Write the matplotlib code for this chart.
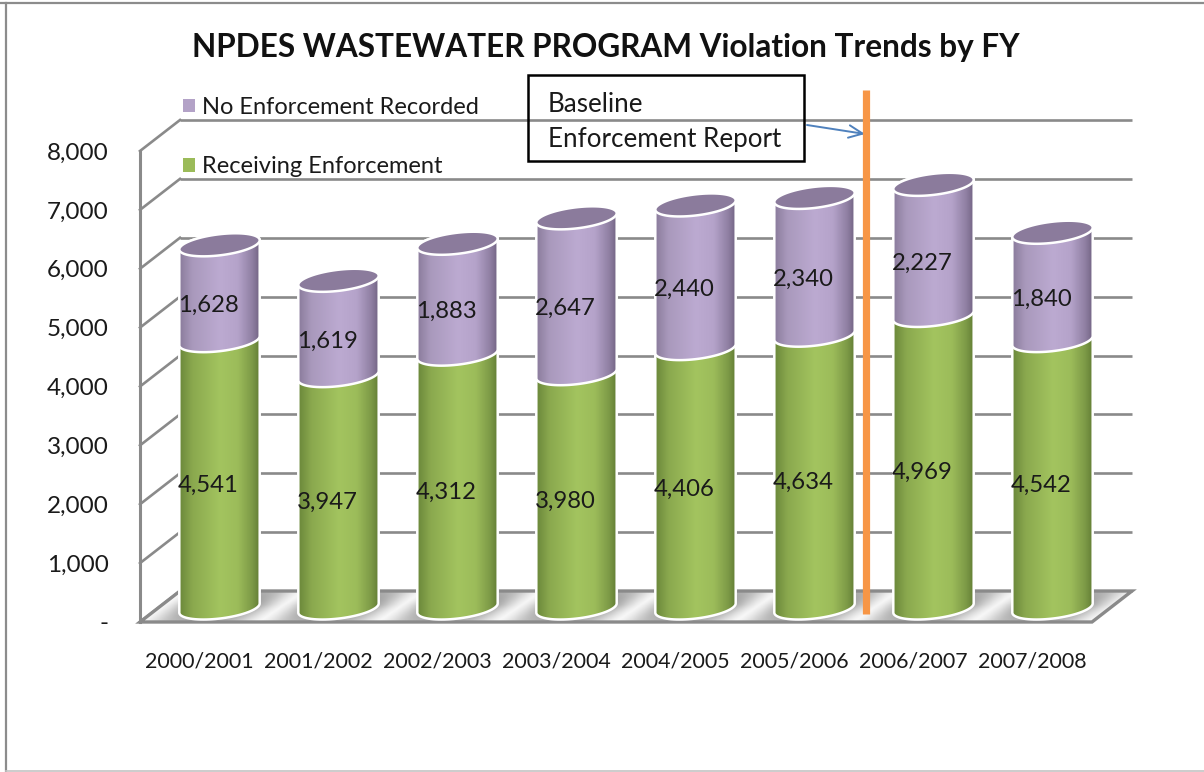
import numpy as np
import matplotlib
matplotlib.use('Agg')
import matplotlib.pyplot as plt
from matplotlib.colors import LinearSegmentedColormap
from matplotlib.lines import Line2D
from matplotlib.patches import Patch, PathPatch, Polygon, Rectangle
from matplotlib.path import Path

years = ['2000/2001', '2001/2002', '2002/2003', '2003/2004',
         '2004/2005', '2005/2006', '2006/2007', '2007/2008']
receiving = [4541, 3947, 4312, 3980, 4406, 4634, 4969, 4542]
no_enforcement = [1628, 1619, 1883, 2647, 2440, 2340, 2227, 1840]
y_ticks = [0, 1000, 2000, 3000, 4000, 5000, 6000, 7000, 8000]
y_labels = ['-', '1,000', '2,000', '3,000', '4,000', '5,000', '6,000', '7,000', '8,000']

W, H = 1204, 772
AX_L, AX_B, AX_W, AX_H = 140, 622, 952, 471
PX_X = AX_W / len(years)   # pixels per category
PX_Y = AX_H / 8000         # pixels per violation
DEPTH_X, DEPTH_Y = 40 / PX_X, 31 / PX_Y   # wall offset
BAR_DX, BAR_DY = 20 / PX_X, 14 / PX_Y     # bars stand mid floor
GRID = '#8a8a8a'
TEXT = '#1a1a1a'

plt.rcParams['font.family'] = ['Lato', 'DejaVu Sans']

fig = plt.figure(figsize=(W / 100, H / 100), dpi=100, facecolor='white')
ax = fig.add_axes([AX_L / W, (H - AX_B) / H, AX_W / W, AX_H / H])
ax.patch.set_visible(False)
for s in ax.spines.values():
    s.set_visible(False)


def ellipse_pts(cx, cy, t0, t1, n=40):
    # tilted ellipse, worked out in pixels and returned in data units
    a, b, tilt = 40.5, 10.5, np.radians(7)
    t = np.radians(np.linspace(t0, t1, n))
    px = a * np.cos(t) * np.cos(tilt) - b * np.sin(t) * np.sin(tilt)
    py = a * np.cos(t) * np.sin(tilt) + b * np.sin(t) * np.cos(tilt)
    return np.column_stack([cx + px / PX_X, cy + py / PX_Y])


def closed(pts):
    verts = np.vstack([pts, pts[0]])
    codes = [Path.MOVETO] + [Path.LINETO] * (len(pts) - 1) + [Path.CLOSEPOLY]
    return Path(verts, codes)


def segment(cx, y0, y1, cmap, z):
    pts = np.vstack([ellipse_pts(cx, y0, 180, 360), ellipse_pts(cx, y1, 0, 180)])
    patch = PathPatch(closed(pts), fc='none', ec='white', lw=1.8, zorder=z + 0.1, clip_on=False)
    ax.add_patch(patch)
    half = 41 / PX_X
    im = ax.imshow(np.linspace(0, 1, 120)[None, :], cmap=cmap, aspect='auto', zorder=z,
                   extent=[cx - half, cx + half, y0 - 20 / PX_Y, y1 + 20 / PX_Y])
    im.set_clip_box(fig.bbox)
    im.set_clip_path(patch)


green_cm = LinearSegmentedColormap.from_list('g', [(0, '#6a873a'), (0.16, '#8aa84e'), (0.5, '#a3c45f'),
                                                   (0.72, '#9cbc5a'), (0.9, '#7c9946'), (1, '#5f7a33')])
purple_cm = LinearSegmentedColormap.from_list('p', [(0, '#8a7b9b'), (0.16, '#a999bc'), (0.5, '#bcaad1'),
                                                    (0.72, '#b5a3ca'), (0.9, '#8f7fa2'), (1, '#6f6180')])

# back wall and side wall gridlines
for v in y_ticks:
    ax.plot([-0.5 + DEPTH_X, 7.5 + DEPTH_X], [v + DEPTH_Y, v + DEPTH_Y], color=GRID, lw=1.9,
            clip_on=False, zorder=1, solid_capstyle='butt')
    ax.plot([-0.5, -0.5 + DEPTH_X], [v, v + DEPTH_Y], color=GRID, lw=1.9, clip_on=False, zorder=1)
ax.plot([-0.5, -0.5], [0, 8000], color=GRID, lw=2.2, clip_on=False, zorder=1)

# floor with the bar shadows
floor = Polygon([[-0.5, 0], [7.5, 0], [7.5 + DEPTH_X, DEPTH_Y], [-0.5 + DEPTH_X, DEPTH_Y]],
                closed=True, fc='none', ec=GRID, lw=2.4, zorder=2.5, clip_on=False)
ax.add_patch(floor)
fx = np.linspace(-0.5, 7.5 + DEPTH_X, 900)
fy = np.linspace(0, DEPTH_Y, 40)
gx, gy = np.meshgrid(fx, fy)
shade = np.zeros_like(gx)
for i in range(len(years)):
    skew = (gy - BAR_DY) / DEPTH_Y * DEPTH_X * 1.1
    shade = np.maximum(shade, np.exp(-((gx - i - BAR_DX - skew) / 0.40) ** 4))
shade = shade * (0.4 + 0.6 * (1 - np.abs(gy / DEPTH_Y - 0.55)))
floor_cm = LinearSegmentedColormap.from_list('f', ['#ffffff', '#8e8e8e'])
im = ax.imshow(shade, cmap=floor_cm, vmin=0, vmax=1, aspect='auto', origin='lower', zorder=2,
               extent=[fx[0], fx[-1], 0, DEPTH_Y])
im.set_clip_box(fig.bbox)
im.set_clip_path(floor)

# cylinders
for i, (g, p) in enumerate(zip(receiving, no_enforcement)):
    cx = i + BAR_DX
    segment(cx, BAR_DY, BAR_DY + g, green_cm, 3)
    segment(cx, BAR_DY + g, BAR_DY + g + p, purple_cm, 4)
    top = closed(ellipse_pts(cx, BAR_DY + g + p, 0, 360, 80)[:-1])
    ax.add_patch(PathPatch(top, fc='#8b7b9c', ec='white', lw=1.8, zorder=5, clip_on=False))
    # value labels sit left of the bar centre and a little low
    ax.text(cx - 11 / PX_X, BAR_DY + g / 2 - 11 / PX_Y, f'{g:,}', ha='center', va='center',
            fontsize=17.2, color=TEXT, zorder=6)
    ax.text(cx - 11 / PX_X, BAR_DY + g + p / 2 - 13 / PX_Y, f'{p:,}', ha='center', va='center',
            fontsize=17.2, color=TEXT, zorder=6)

ax.set_xlim(-0.5, 7.5)
ax.set_ylim(0, 8000)
ax.set_xticks(range(len(years)))
ax.set_xticklabels(years, fontsize=15.4, color=TEXT)
ax.set_yticks(y_ticks)
ax.set_yticklabels(y_labels, fontsize=17.5, color=TEXT)
ax.tick_params(axis='x', length=0, pad=21)
ax.tick_params(axis='y', length=0, pad=22.5)

handles = [Patch(fc='#b3a2c7', label='No Enforcement Recorded'),
           Patch(fc='#9bbb59', label='Receiving Enforcement')]
fig.legend(handles=handles, frameon=False, loc='upper left', bbox_to_anchor=(183 / W, 1 - 97 / H),
           fontsize=17, labelcolor=TEXT, handlelength=0.51, handleheight=0.51, handletextpad=0.3,
           labelspacing=1.62, borderpad=0, borderaxespad=0)

fig.text(606 / W, 1 - 47 / H, 'NPDES WASTEWATER PROGRAM Violation Trends by FY', ha='center', va='center',
         fontsize=22.7, fontweight='bold', color='#111111')

# baseline marker, box and arrow
fig.add_artist(Line2D([866 / W, 866 / W], [1 - 90 / H, 1 - 614 / H], color='#f79646', lw=5.2,
                      solid_capstyle='butt', zorder=7))
fig.add_artist(Rectangle((528 / W, 1 - 161 / H), 276 / W, 86 / H, fc='none', ec='black', lw=1.8,
                         transform=fig.transFigure, zorder=7))
fig.text(548 / W, 1 - 104 / H, 'Baseline', fontsize=18.7, color=TEXT, va='center', zorder=8)
fig.text(548 / W, 1 - 139 / H, 'Enforcement Report', fontsize=18.7, color=TEXT, va='center', zorder=8)
ann = ax.annotate('', xy=(865 / W, 1 - 134 / H), xytext=(807 / W, 1 - 125 / H), xycoords='figure fraction',
                  textcoords='figure fraction', zorder=8, annotation_clip=False,
                  arrowprops=dict(arrowstyle='->,head_length=1.0,head_width=0.45', color='#4f81bd', lw=1.4,
                                  shrinkA=0, shrinkB=0))

# screenshot border
fig.add_artist(Line2D([0, 1], [1 - 3 / H, 1 - 3 / H], color='#8c8c8c', lw=1.6))
fig.add_artist(Line2D([6 / W, 6 / W], [0, 1 - 3 / H], color='#8c8c8c', lw=1.6))
fig.add_artist(Line2D([6 / W, 1], [1 / H, 1 / H], color='#c4c4c4', lw=1.2))

fig.savefig('out.png', dpi=100)
